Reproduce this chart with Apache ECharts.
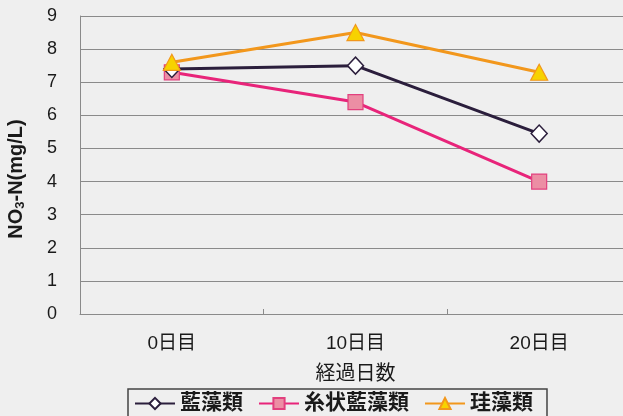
<!DOCTYPE html>
<html>
<head>
<meta charset="utf-8">
<script src="https://cdn.jsdelivr.net/npm/echarts@6/dist/echarts.min.js"></script>
<style>
  html, body { margin: 0; padding: 0; background: #efefef; }
  #chart { width: 623px; height: 416px; }
</style>
</head>
<body>
<div id="chart"></div>
<script>
// Days elapsed
const categories = ['0日目', '10日目', '20日目'];
// NO3-N concentration (mg/L)
const aiso = [7.4, 7.5, 5.45];          // 藍藻類
const shijo = [7.3, 6.4, 4.0];          // 糸状藍藻類
const keiso = [7.6, 8.5, 7.3];          // 珪藻類
const yTicks = [0, 1, 2, 3, 4, 5, 6, 7, 8, 9];

const FONT = '"Liberation Sans", "Noto Sans CJK JP", sans-serif';

const chart = echarts.init(document.getElementById('chart'));
chart.setOption({
  backgroundColor: '#efefef',
  animation: false,
  textStyle: { fontFamily: FONT },
  // plot area runs past the right edge of the canvas
  grid: { left: 80, top: 16, width: 551, height: 298, containLabel: false, outerBoundsMode: 'none' },
  legend: {
    left: 128,
    top: 389,
    padding: [4, 14, 40, 6],
    borderColor: '#444',
    borderWidth: 1.5,
    itemWidth: 40,
    itemHeight: 14,
    itemGap: 15,
    textStyle: { fontFamily: FONT, fontSize: 21, fontWeight: 'bold', color: '#1a1a1a' },
    data: ['藍藻類', '糸状藍藻類', '珪藻類']
  },
  xAxis: {
    type: 'category',
    data: categories,
    boundaryGap: true,
    name: '経過日数',
    nameLocation: 'middle',
    nameGap: 50,
    nameTextStyle: { fontFamily: FONT, fontSize: 20, color: '#1a1a1a' },
    axisLine: { lineStyle: { color: '#8a8a8a', width: 1 } },
    axisTick: { show: true, inside: true, length: 5, lineStyle: { color: '#8a8a8a' } },
    axisLabel: { fontFamily: FONT, fontSize: 19, color: '#1a1a1a', margin: 20 }
  },
  yAxis: {
    type: 'value',
    min: yTicks[0],
    max: yTicks[yTicks.length - 1],
    interval: 1,
    name: 'NO{sub|3}-N(mg/L)',
    nameLocation: 'middle',
    nameRotate: 90,
    nameGap: 53,
    nameTextStyle: {
      fontFamily: FONT, fontSize: 20, fontWeight: 'bold', color: '#1a1a1a',
      padding: [0, 28, 0, 0],
      rich: {
        sub: { fontFamily: FONT, fontSize: 13, fontWeight: 'bold', color: '#1a1a1a', verticalAlign: 'bottom', padding: [8, 0, 0, 0] }
      }
    },
    axisLine: { show: true, lineStyle: { color: '#8a8a8a', width: 1 } },
    axisTick: { show: false },
    axisLabel: { fontFamily: FONT, fontSize: 18, color: '#1a1a1a', margin: 23 },
    splitLine: { show: true, lineStyle: { color: '#8a8a8a', width: 1 } }
  },
  series: [
    {
      name: '藍藻類',
      type: 'line',
      data: aiso,
      symbol: 'diamond',
      symbolSize: [16, 17],
      lineStyle: { color: '#2b1e3c', width: 3 },
      itemStyle: { color: '#ffffff', borderColor: '#2b1e3c', borderWidth: 1.5 },
      z: 3
    },
    {
      name: '糸状藍藻類',
      type: 'line',
      data: shijo,
      symbol: 'rect',
      symbolSize: 15,
      lineStyle: { color: '#e8247a', width: 3 },
      itemStyle: { color: '#ec8ea4', borderColor: '#e2407e', borderWidth: 1.2 },
      z: 2
    },
    {
      name: '珪藻類',
      type: 'line',
      data: keiso,
      symbol: 'triangle',
      symbolSize: [17, 16],
      lineStyle: { color: '#f2971c', width: 3 },
      itemStyle: { color: '#f7d200', borderColor: '#f2971c', borderWidth: 1.2 },
      z: 4
    }
  ]
});
</script>
</body>
</html>
